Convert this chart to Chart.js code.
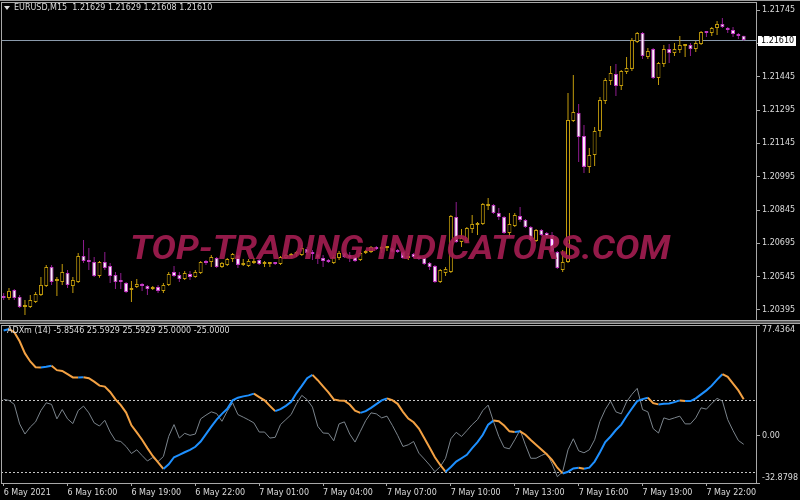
<!DOCTYPE html>
<html>
<head>
<meta charset="utf-8">
<title>EURUSD,M15 ADXm</title>
<script src="https://cdn.jsdelivr.net/npm/chart.js@4.4.1/dist/chart.umd.min.js"></script>
<style>
  html, body { margin: 0; padding: 0; background: #000; }
  #stage { position: relative; width: 800px; height: 500px; overflow: hidden; background: #000; }
  canvas { position: absolute; left: 0; }
  #priceCanvas { top: 0; }
  #adxCanvas { top: 322px; }
  #topLine { position: absolute; left: 0; top: 0; width: 800px; height: 1px; background: #9a9a9a; }
  #paneSplit { position: absolute; left: 0; top: 320px; width: 800px; height: 2px; background: #5a5a5a;
               border-top: 1px solid #a8a8a8; border-bottom: 1px solid #a8a8a8; }
  .caption { position: absolute; font: 8px/8px "DejaVu Sans", sans-serif; color: #dcdcdc; white-space: pre; }
  #symbolCaption { left: 14px; top: 4px; }
  #adxCaption { left: 7px; top: 327px; }
  #menuArrow { position: absolute; left: 4px; top: 6px; width: 0; height: 0;
               border-left: 3px solid transparent; border-right: 3px solid transparent; border-top: 4px solid #dcdcdc; }
  #watermark { position: absolute; left: 130px; top: 231px; font: italic bold 33px/33px Roboto, sans-serif;
               color: #a51d52; opacity: 0.9; white-space: nowrap; transform-origin: 0 0; }
</style>
</head>
<body>
<div id="stage">
  <canvas id="priceCanvas" width="800" height="322"></canvas>
  <canvas id="adxCanvas" width="800" height="178"></canvas>
  <div id="topLine"></div>
  <div id="paneSplit"></div>
  <div id="menuArrow"></div>
  <div id="symbolCaption" class="caption"></div>
  <div id="adxCaption" class="caption"></div>
  <div id="watermark">TOP-TRADING-INDICATORS.COM</div>
</div>
<script>
// === DATA: EURUSD M15 candles, 6 May 13:00 -> 7 May 23:45 ===
const symbolName = 'EURUSD,M15';
const opens = [
  1.20458, 1.20449, 1.20485, 1.20454, 1.20409, 1.20409, 1.20431, 1.20463, 1.20503, 1.20589,
  1.20526, 1.20521, 1.20562, 1.20503, 1.20521, 1.20638, 1.20616, 1.20611, 1.20548, 1.20611,
  1.20593, 1.20553, 1.20526, 1.20517, 1.20485, 1.20499, 1.20508, 1.20503, 1.20490, 1.20499,
  1.20481, 1.20508, 1.20566, 1.20553, 1.20535, 1.20557, 1.20544, 1.20562, 1.20611, 1.20611,
  1.20629, 1.20589, 1.20598, 1.20625, 1.20643, 1.20598, 1.20593, 1.20607, 1.20620, 1.20602,
  1.20602, 1.20607, 1.20602, 1.20629, 1.20638, 1.20647, 1.20643, 1.20670, 1.20656, 1.20647,
  1.20629, 1.20620, 1.20607, 1.20629, 1.20652, 1.20643, 1.20634, 1.20620, 1.20652, 1.20656,
  1.20679, 1.20670, 1.20674, 1.20674, 1.20665, 1.20656, 1.20629, 1.20647, 1.20634, 1.20629,
  1.20607, 1.20593, 1.20521, 1.20562, 1.20566, 1.20814, 1.20701, 1.20706, 1.20760, 1.20778,
  1.20782, 1.20863, 1.20868, 1.20832, 1.20814, 1.20742, 1.20773, 1.20818, 1.20800, 1.20769,
  1.20706, 1.20755, 1.20742, 1.20733, 1.20656, 1.20575, 1.20611, 1.21246, 1.21282, 1.21178,
  1.21039, 1.21093, 1.21201, 1.21336, 1.21426, 1.21457, 1.21403, 1.21466, 1.21480, 1.21601,
  1.21642, 1.21534, 1.21570, 1.21439, 1.21502, 1.21570, 1.21552, 1.21565, 1.21583, 1.21588,
  1.21570, 1.21592, 1.21646, 1.21642, 1.21664, 1.21682, 1.21664, 1.21655, 1.21637, 1.21629
];
const highs = [
  1.20472, 1.20494, 1.20490, 1.20463, 1.20440, 1.20463, 1.20476, 1.20544, 1.20598, 1.20598,
  1.20544, 1.20602, 1.20575, 1.20544, 1.20652, 1.20710, 1.20674, 1.20634, 1.20616, 1.20656,
  1.20607, 1.20566, 1.20562, 1.20521, 1.20526, 1.20535, 1.20517, 1.20508, 1.20503, 1.20508,
  1.20517, 1.20566, 1.20593, 1.20566, 1.20570, 1.20570, 1.20575, 1.20616, 1.20620, 1.20643,
  1.20634, 1.20611, 1.20629, 1.20652, 1.20652, 1.20625, 1.20625, 1.20629, 1.20625, 1.20616,
  1.20611, 1.20611, 1.20638, 1.20647, 1.20652, 1.20661, 1.20688, 1.20679, 1.20665, 1.20656,
  1.20643, 1.20625, 1.20643, 1.20661, 1.20656, 1.20656, 1.20638, 1.20656, 1.20665, 1.20683,
  1.20683, 1.20683, 1.20683, 1.20679, 1.20670, 1.20661, 1.20652, 1.20652, 1.20638, 1.20634,
  1.20611, 1.20598, 1.20580, 1.20589, 1.20823, 1.20881, 1.20760, 1.20769, 1.20823, 1.20791,
  1.20877, 1.20899, 1.20872, 1.20854, 1.20818, 1.20832, 1.20832, 1.20859, 1.20805, 1.20773,
  1.20760, 1.20760, 1.20746, 1.20746, 1.20661, 1.20665, 1.21372, 1.21453, 1.21322, 1.21228,
  1.21124, 1.21219, 1.21354, 1.21439, 1.21493, 1.21502, 1.21475, 1.21534, 1.21619, 1.21646,
  1.21646, 1.21574, 1.21574, 1.21511, 1.21588, 1.21592, 1.21597, 1.21628, 1.21592, 1.21597,
  1.21606, 1.21651, 1.21651, 1.21669, 1.21696, 1.21709, 1.21669, 1.21669, 1.21642, 1.21629
];
const lows = [
  1.20440, 1.20440, 1.20440, 1.20404, 1.20373, 1.20404, 1.20427, 1.20458, 1.20499, 1.20508,
  1.20458, 1.20508, 1.20494, 1.20472, 1.20517, 1.20607, 1.20575, 1.20544, 1.20540, 1.20575,
  1.20517, 1.20490, 1.20490, 1.20472, 1.20431, 1.20494, 1.20481, 1.20463, 1.20485, 1.20472,
  1.20472, 1.20503, 1.20544, 1.20521, 1.20530, 1.20530, 1.20540, 1.20557, 1.20598, 1.20589,
  1.20584, 1.20584, 1.20593, 1.20611, 1.20584, 1.20593, 1.20589, 1.20602, 1.20598, 1.20589,
  1.20589, 1.20598, 1.20598, 1.20625, 1.20629, 1.20634, 1.20638, 1.20643, 1.20620, 1.20602,
  1.20589, 1.20607, 1.20602, 1.20620, 1.20629, 1.20611, 1.20611, 1.20616, 1.20647, 1.20652,
  1.20665, 1.20652, 1.20661, 1.20652, 1.20652, 1.20625, 1.20620, 1.20629, 1.20620, 1.20598,
  1.20575, 1.20517, 1.20517, 1.20548, 1.20562, 1.20697, 1.20679, 1.20697, 1.20742, 1.20733,
  1.20778, 1.20845, 1.20827, 1.20800, 1.20737, 1.20724, 1.20769, 1.20791, 1.20764, 1.20706,
  1.20701, 1.20728, 1.20719, 1.20647, 1.20580, 1.20566, 1.20607, 1.21241, 1.21061, 1.21012,
  1.21012, 1.21043, 1.21174, 1.21322, 1.21408, 1.21358, 1.21385, 1.21457, 1.21470, 1.21597,
  1.21525, 1.21525, 1.21435, 1.21408, 1.21489, 1.21507, 1.21538, 1.21552, 1.21534, 1.21538,
  1.21556, 1.21588, 1.21624, 1.21628, 1.21633, 1.21664, 1.21642, 1.21624, 1.21615, 1.21608
];
const closes = [
  1.20449, 1.20481, 1.20449, 1.20409, 1.20413, 1.20440, 1.20467, 1.20508, 1.20589, 1.20521,
  1.20530, 1.20566, 1.20508, 1.20530, 1.20638, 1.20616, 1.20611, 1.20548, 1.20611, 1.20584,
  1.20548, 1.20521, 1.20521, 1.20476, 1.20490, 1.20512, 1.20503, 1.20490, 1.20499, 1.20481,
  1.20508, 1.20557, 1.20548, 1.20535, 1.20562, 1.20544, 1.20566, 1.20611, 1.20607, 1.20634,
  1.20589, 1.20607, 1.20625, 1.20647, 1.20598, 1.20602, 1.20616, 1.20611, 1.20602, 1.20607,
  1.20607, 1.20602, 1.20634, 1.20643, 1.20647, 1.20652, 1.20674, 1.20652, 1.20647, 1.20629,
  1.20616, 1.20611, 1.20634, 1.20652, 1.20634, 1.20629, 1.20616, 1.20652, 1.20661, 1.20679,
  1.20670, 1.20674, 1.20679, 1.20656, 1.20656, 1.20629, 1.20634, 1.20634, 1.20625, 1.20602,
  1.20589, 1.20521, 1.20575, 1.20580, 1.20818, 1.20701, 1.20719, 1.20764, 1.20782, 1.20787,
  1.20872, 1.20868, 1.20832, 1.20814, 1.20742, 1.20782, 1.20823, 1.20800, 1.20769, 1.20710,
  1.20755, 1.20733, 1.20728, 1.20656, 1.20584, 1.20611, 1.21250, 1.21286, 1.21174, 1.21039,
  1.21093, 1.21201, 1.21340, 1.21430, 1.21462, 1.21403, 1.21470, 1.21484, 1.21610, 1.21642,
  1.21538, 1.21561, 1.21439, 1.21507, 1.21570, 1.21552, 1.21570, 1.21588, 1.21588, 1.21570,
  1.21597, 1.21646, 1.21642, 1.21664, 1.21682, 1.21669, 1.21655, 1.21637, 1.21628, 1.21610
];
const priceTicks = [1.20395, 1.20545, 1.20695, 1.20845, 1.20995, 1.21145, 1.21295, 1.21445, 1.21595, 1.21745];
const priceMin = 1.20350;
const priceMax = 1.21781;
const lastPrice = 1.21610;

// === DATA: ADXm (14) sub-window ===
const adxPeriod = 14;
const adxMain = [
  73.6, 74.6, 72.4, 66.1, 57.6, 52.0, 48.0, 47.8, 48.3, 49.0,
  45.9, 45.4, 43.1, 40.8, 40.7, 41.0, 40.3, 37.9, 35.1, 34.4,
  30.7, 25.5, 21.5, 16.3, 7.4, 2.5, -2.7, -8.5, -14.0, -18.4,
  -23.1, -19.8, -14.9, -13.2, -11.4, -9.7, -7.6, -3.9, 1.3, 6.5,
  11.4, 15.4, 18.9, 24.8, 26.7, 27.6, 28.3, 29.5, 27.1, 24.8,
  21.0, 17.3, 18.7, 21.0, 23.8, 29.9, 34.9, 40.3, 42.6, 38.9,
  34.6, 30.4, 25.5, 24.8, 24.6, 21.9, 17.7, 16.1, 17.3, 19.6,
  22.2, 24.8, 26.2, 25.0, 22.4, 16.8, 12.1, 9.5, 5.1, -1.5,
  -8.1, -14.9, -20.3, -25.0, -21.7, -17.9, -15.6, -13.2, -8.5, -4.3,
  0.8, 7.9, 10.7, 10.2, 7.2, 3.2, 2.7, 3.2, 0.8, -2.9,
  -6.2, -9.5, -12.8, -16.8, -22.2, -26.2, -25.0, -22.7, -22.2, -22.9,
  -22.2, -17.9, -11.4, -4.3, -0.4, 4.1, 7.9, 13.7, 19.1, 24.3,
  25.7, 26.7, 22.9, 22.0, 22.4, 22.7, 23.6, 24.8, 24.3, 24.3,
  26.2, 29.0, 31.8, 35.1, 39.3, 43.1, 41.2, 36.5, 31.8, 25.5929
];
const adxRaw = [
  25.5, 24.8, 22.0, 8.4, 1.3, 6.2, 9.8, 17.7, 23.1, 22.0,
  11.9, 18.4, 11.9, 8.6, 17.7, 20.8, 16.1, 9.1, 6.9, 10.9,
  2.7, -3.2, -3.9, -7.4, -12.3, -9.7, -13.7, -17.5, -15.1, -17.9,
  -14.4, -0.3, 7.9, -1.5, 1.8, 0.4, 1.3, 11.9, 14.5, 16.8,
  15.6, 10.2, 17.3, 23.1, 14.9, 13.1, 11.2, 9.1, 2.7, 2.7,
  -1.5, -1.0, 7.9, 11.4, 14.9, 22.4, 28.3, 25.3, 20.1, 6.7,
  2.0, 1.8, -3.4, 8.4, 9.8, 1.3, -4.3, 3.2, 10.7, 16.1,
  15.4, 12.6, 13.8, 7.4, 0.4, -7.4, -6.2, -3.9, -12.1, -16.1,
  -20.3, -25.0, -21.5, -15.6, -2.0, 2.5, -0.4, 3.7, 7.9, 11.4,
  17.7, 21.5, 10.2, -0.4, -8.1, -9.0, -2.7, 4.1, -6.2, -15.6,
  -15.6, -13.7, -12.1, -19.3, -28.5, -25.0, -9.7, -2.0, -10.4, -11.8,
  -9.7, -2.7, 10.2, 18.4, 24.3, 16.8, 15.4, 23.8, 29.0, 33.2,
  18.4, 16.8, 5.1, 2.0, 12.6, 11.4, 12.6, 13.8, 8.4, 8.4,
  12.6, 19.6, 18.7, 22.7, 26.2, 24.3, 11.4, 3.7, -3.2, -5.8546
];
const adxLevels = [25, -25];
const adxMin = -32.8798;
const adxMax = 77.4364;
const adxTicks = [77.4364, 0, -32.8798];

// === DATA: time axis ===
const timeTickLabels = ['6 May 2021', '6 May 16:00', '6 May 19:00', '6 May 22:00', '7 May 01:00', '7 May 04:00',
                        '7 May 07:00', '7 May 10:00', '7 May 13:00', '7 May 16:00', '7 May 19:00', '7 May 22:00'];
const barsPerTimeTick = 12;
const emptySlots = 2;

// === STYLE ===
const textColor = '#dcdcdc';
const frameColor = '#a8a8a8';
const axisFont = { family: "'DejaVu Sans', sans-serif", size: 8 };
const bullColor = '#c39c0c';
const bearEdge = '#c43ac4';
const bearFill = '#ffeaff';
const bearWick = '#8e1c8e';
const adxUp = '#1e90ff';
const adxDown = '#f3a143';
const adxRawColor = '#7b848c';

// One slot per M15 bar, plus the empty shift at the right edge
const slotLabels = Array.from({ length: opens.length + emptySlots }, (_, i) => {
    const minutes = 13 * 60 + i * 15;
    const day = 6 + Math.floor(minutes / 1440);
    const m = minutes % 1440;
    return `${day} May ${String(Math.floor(m / 60)).padStart(2, '0')}:${String(m % 60).padStart(2, '0')}`;
});

// Pane frame, level lines and the current price marker
const paneFrame = {
    id: 'paneFrame',
    beforeDatasetsDraw(chart, args, opts) {
        const { ctx, chartArea: a, scales } = chart;
        ctx.save();
        ctx.lineWidth = 1;
        (opts.levels || []).forEach(v => {
            const y = Math.round(scales.y.getPixelForValue(v)) + 0.5;
            ctx.setLineDash([2, 2]);
            ctx.strokeStyle = '#c4c4c4';
            ctx.beginPath();
            ctx.moveTo(a.left, y);
            ctx.lineTo(a.right, y);
            ctx.stroke();
        });
        if (opts.priceLine != null) {
            const y = Math.round(scales.y.getPixelForValue(opts.priceLine)) + 0.5;
            ctx.setLineDash([]);
            ctx.strokeStyle = '#8a9aab';
            ctx.beginPath();
            ctx.moveTo(a.left, y);
            ctx.lineTo(a.right, y);
            ctx.stroke();
        }
        ctx.restore();
    },
    afterDraw(chart, args, opts) {
        const { ctx, chartArea: a, scales } = chart;
        ctx.save();
        ctx.strokeStyle = frameColor;
        ctx.lineWidth = 1;
        ctx.strokeRect(a.left + 0.5, a.top + 0.5, a.right - a.left - 1, a.bottom - a.top);
        if (opts.priceLine != null) {
            const y = Math.round(scales.y.getPixelForValue(opts.priceLine));
            ctx.fillStyle = '#ffffff';
            ctx.fillRect(a.right + 1, y - 4, 38, 10);
            ctx.fillStyle = '#000000';
            ctx.font = "8px 'DejaVu Sans', sans-serif";
            ctx.textBaseline = 'middle';
            ctx.fillText(opts.priceLine.toFixed(5), a.right + 4, y + 1);
        }
        ctx.restore();
    }
};

function timeAxis(show) {
    return {
        type: 'category',
        offset: true,
        display: show,
        grid: { display: show, offset: false, drawOnChartArea: false, color: frameColor, tickLength: 3 },
        border: { display: false },
        afterBuildTicks: s => { s.ticks = s.ticks.filter(t => t.value % barsPerTimeTick === 0); },
        afterFit: s => {
            if (show) s.height = 17;
            s.paddingLeft = 0;
            s.paddingRight = 0;
        },
        ticks: {
            autoSkip: false, maxRotation: 0, align: 'start', padding: 2,
            color: textColor, font: axisFont,
            callback: v => timeTickLabels[v / barsPerTimeTick]
        }
    };
}

function rightAxis(min, max, tickValues, format) {
    return {
        position: 'right',
        min: min,
        max: max,
        afterBuildTicks: s => { s.ticks = tickValues.map(v => ({ value: v })); },
        afterFit: s => { s.width = 43; s.paddingTop = 0; s.paddingBottom = 0; },
        grid: { drawOnChartArea: false, color: frameColor, tickLength: 3 },
        border: { display: false },
        ticks: { padding: 2, color: textColor, font: axisFont, callback: format }
    };
}

// === PRICE PANE: candles as wick + body floating bars ===
const isBull = closes.map((c, i) => c >= opens[i]);

new Chart(document.getElementById('priceCanvas'), {
    type: 'bar',
    data: {
        labels: slotLabels,
        datasets: [
            {
                label: 'wicks',
                data: lows.map((l, i) => [l, highs[i]]),
                backgroundColor: isBull.map(b => b ? bullColor : bearWick),
                barThickness: 1,
                inflateAmount: 0,
                grouped: false,
                order: 1
            },
            {
                label: 'bodies',
                data: opens.map((o, i) => [o, closes[i]]),
                backgroundColor: isBull.map(b => b ? '#000000' : bearFill),
                borderColor: isBull.map(b => b ? bullColor : bearEdge),
                borderWidth: 1,
                borderSkipped: false,
                barThickness: 4,
                minBarLength: 2,
                inflateAmount: 0,
                grouped: false,
                order: 0
            }
        ]
    },
    options: {
        responsive: false,
        animation: false,
        layout: { padding: { top: 2, bottom: 2, left: 1, right: 0 } },
        scales: {
            x: timeAxis(false),
            y: rightAxis(priceMin, priceMax, priceTicks, v => v.toFixed(5))
        },
        plugins: {
            legend: { display: false },
            tooltip: { enabled: false },
            paneFrame: { priceLine: lastPrice }
        }
    },
    plugins: [paneFrame]
});

// === ADXm PANE: main line coloured by direction + raw DX line ===
new Chart(document.getElementById('adxCanvas'), {
    type: 'line',
    data: {
        labels: slotLabels,
        datasets: [
            {
                label: 'ADXm',
                data: adxMain,
                borderColor: adxUp,
                borderWidth: 2,
                pointRadius: 0,
                tension: 0,
                segment: { borderColor: c => c.p1.parsed.y >= c.p0.parsed.y ? adxUp : adxDown },
                order: 0
            },
            {
                label: 'DX',
                data: adxRaw,
                borderColor: adxRawColor,
                borderWidth: 1,
                pointRadius: 0,
                tension: 0,
                order: 1
            }
        ]
    },
    options: {
        responsive: false,
        animation: false,
        layout: { padding: { top: 3, bottom: 0, left: 1, right: 0 } },
        scales: {
            x: timeAxis(true),
            // top/bottom labels sit inside the pane, as in the terminal
            y: rightAxis(adxMin, adxMax, adxTicks, v => {
                if (v === adxMax) return ['', v.toFixed(4)];
                if (v === adxMin) return [v.toFixed(4), ''];
                return v.toFixed(2);
            })
        },
        plugins: {
            legend: { display: false },
            tooltip: { enabled: false },
            paneFrame: { levels: adxLevels }
        }
    },
    plugins: [paneFrame]
});

// === CAPTIONS ===
const last = opens.length - 1;
document.getElementById('symbolCaption').textContent =
    symbolName + '  ' + [opens[last], highs[last], lows[last], closes[last]].map(v => v.toFixed(5)).join(' ');
document.getElementById('adxCaption').textContent =
    `ADXm (${adxPeriod}) ` + [adxRaw[last], adxMain[last], adxMain[last], adxLevels[0], adxLevels[1]].map(v => v.toFixed(4)).join(' ');

// Stretch the watermark to its width in the picture
const wm = document.getElementById('watermark');
wm.style.transform = `scaleX(${540 / wm.offsetWidth})`;
</script>
</body>
</html>
